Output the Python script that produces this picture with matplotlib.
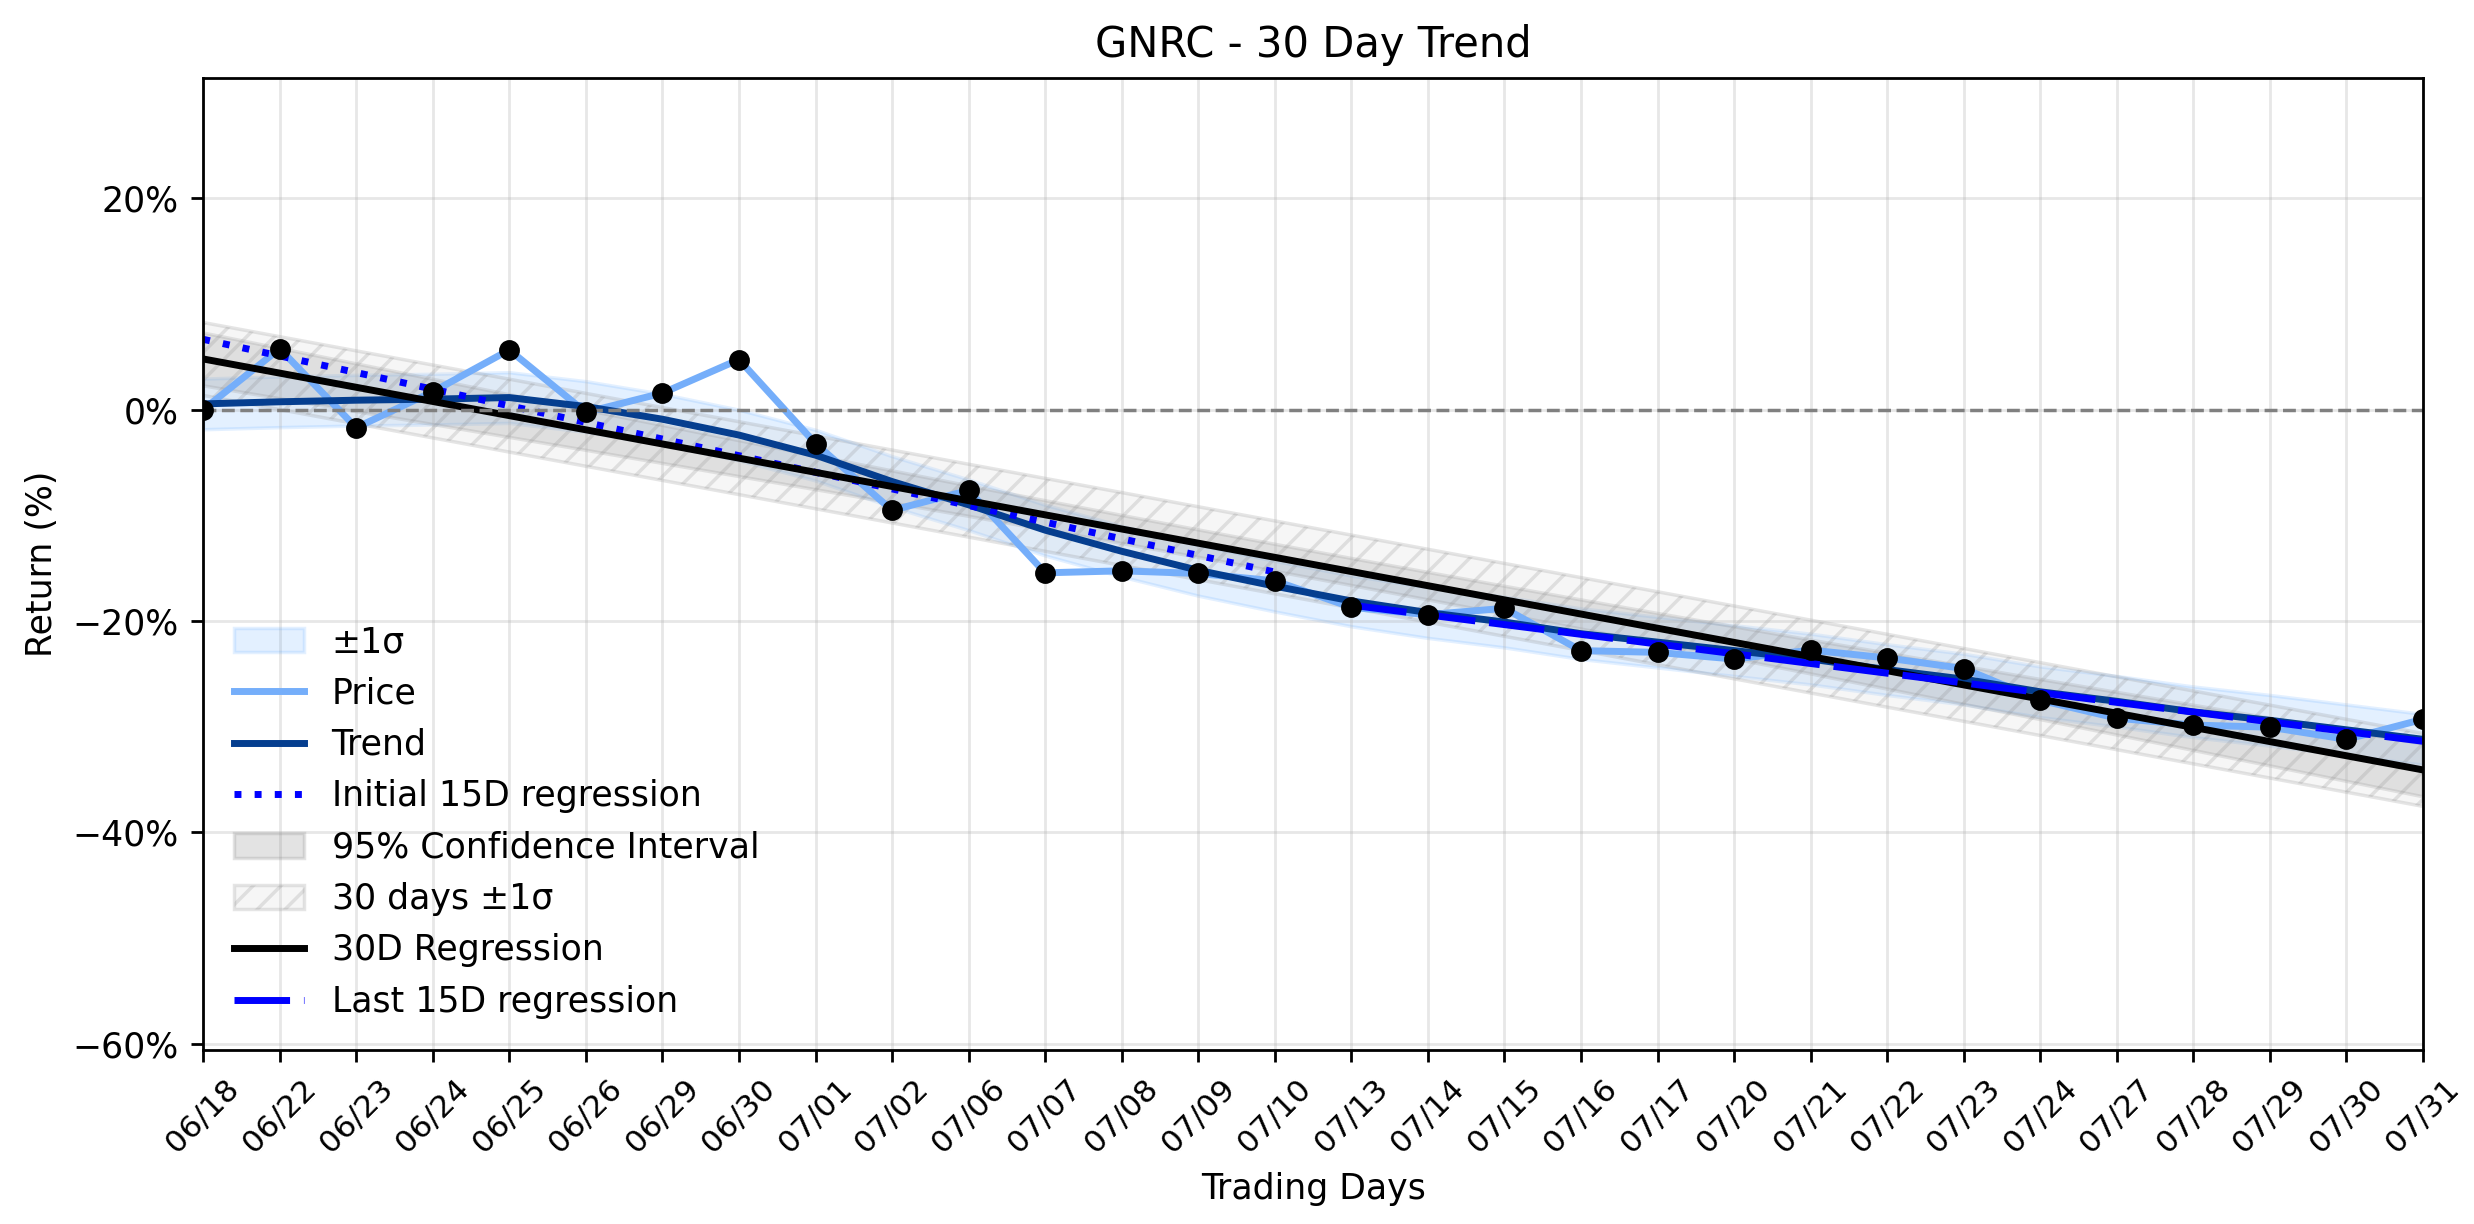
import numpy as np
import matplotlib
matplotlib.use("Agg")
import matplotlib.pyplot as plt
from matplotlib.ticker import PercentFormatter

# ---- data ----
dates = ["06/18", "06/22", "06/23", "06/24", "06/25", "06/26", "06/29", "06/30",
         "07/01", "07/02", "07/06", "07/07", "07/08", "07/09", "07/10", "07/13",
         "07/14", "07/15", "07/16", "07/17", "07/20", "07/21", "07/22", "07/23",
         "07/24", "07/27", "07/28", "07/29", "07/30", "07/31"]

price_ret = [0.0, 5.78, -1.70, 1.70, 5.66, -0.25, 1.57, 4.75, -3.2, -9.52,
             -7.64, -15.44, -15.25, -15.5, -16.2, -18.7, -19.4, -18.8, -22.8, -22.97,
             -23.6, -22.75, -23.5, -24.5, -27.5, -29.2, -29.85, -30.05, -31.2, -29.3]

trend = [0.55, 0.75, 0.9, 1.0, 1.15, 0.3, -0.9, -2.4, -4.3, -6.8,
         -9.0, -11.4, -13.4, -15.2, -16.7, -18.1, -19.2, -20.1, -21.2, -22.0,
         -22.8, -23.6, -24.6, -25.5, -26.7, -27.6, -28.6, -29.4, -30.3, -31.2]

trend_sigma = 2.4          # width of the light blue ±1σ band
sigma_30d = 3.45           # width of the hatched 30 days ±1σ band
ci_half = [2.5, 2.38, 2.26, 2.14, 2.02, 1.9, 1.8, 1.7, 1.6, 1.52,
           1.44, 1.38, 1.33, 1.3, 1.28, 1.28, 1.3, 1.33, 1.38, 1.44,
           1.52, 1.6, 1.7, 1.8, 1.9, 2.02, 2.14, 2.26, 2.38, 2.5]

n_window = 15
ylim = (-60.6, 31.4)

# ---- derived ----
x = np.arange(len(dates))
y = np.array(price_ret)
tr = np.array(trend)
ci = np.array(ci_half)

c30 = np.polyfit(x, y, 1)
reg30 = np.polyval(c30, x)
xi = x[:n_window]
ci_ = np.polyfit(xi, y[:n_window], 1)
xl = x[-n_window:]
cl_ = np.polyfit(xl, y[-n_window:], 1)

fig = plt.figure(figsize=(2474 / 250, 1224 / 250), dpi=250)
ax = fig.add_axes([0.0821, 0.1422, 0.9794 - 0.0821, 0.9363 - 0.1422])

ax.fill_between(x, tr - trend_sigma, tr + trend_sigma, color="#2e8fff", alpha=0.13, label="±1σ")
ax.plot(x, y, color="#75aefa", lw=2, label="Price")
ax.plot(x, tr, color="#053e8f", lw=2, label="Trend")
ax.plot(xi, np.polyval(ci_, xi), color="blue", lw=2, ls=(0, (1, 1.9)), label="Initial 15D regression")
ax.fill_between(x, reg30 - ci, reg30 + ci, color="gray", alpha=0.22, label="95% Confidence Interval")
ax.fill_between(x, reg30 - sigma_30d, reg30 + sigma_30d,
                facecolor=(0.827, 0.827, 0.827, 0.2), edgecolor=(0.5, 0.5, 0.5, 0.2),
                hatch="///", label="30 days ±1σ")
ax.plot(x, reg30, color="black", lw=2, label="30D Regression")
ax.plot(xl, np.polyval(cl_, xl), color="blue", lw=2, ls=(0, (8, 2)), label="Last 15D regression")
ax.scatter(x, y, color="black", s=25, zorder=5)
ax.axhline(0, color="gray", ls="--", lw=1)

ax.set_xlim(x[0], x[-1])
ax.set_ylim(*ylim)
ax.set_yticks([20, 0, -20, -40, -60])
ax.yaxis.set_major_formatter(PercentFormatter(xmax=100, decimals=0))
ax.set_xticks(x)
ax.set_xticklabels(dates, rotation=45, fontsize=9)
ax.grid(True, alpha=0.3)
ax.set_title("GNRC - 30 Day Trend", fontsize=12)
ax.set_xlabel("Trading Days")
ax.set_ylabel("Return (%)")
ax.legend(loc="lower left", frameon=False)

fig.savefig("out.png", dpi=250)
